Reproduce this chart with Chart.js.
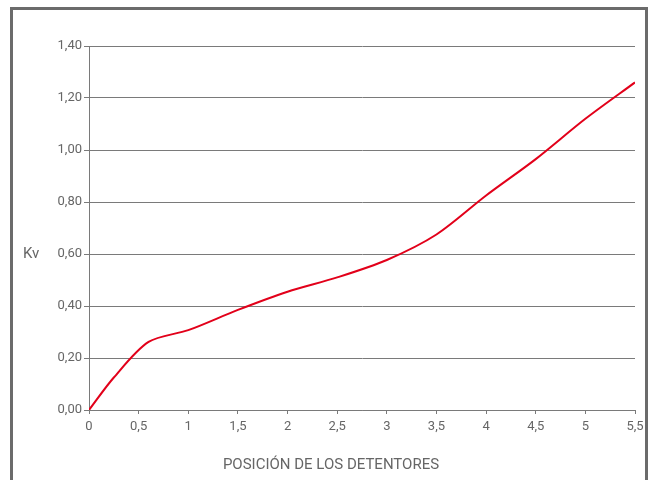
<!DOCTYPE html>
<html>
<head>
<meta charset="utf-8">
<script src="https://cdn.jsdelivr.net/npm/chart.js@4/dist/chart.umd.min.js"></script>
<style>
html,body{margin:0;padding:0;background:#fff;}
#wrap{width:651px;height:480px;position:relative;}
</style>
</head>
<body>
<div id="wrap"><canvas id="c" width="651" height="480"></canvas></div>
<script>
// Data
const positions = [0, 0.25, 0.6, 1, 1.5, 2, 2.5, 3, 3.5, 4, 4.5, 5, 5.5];
const kvValues  = [0, 0.125, 0.262, 0.307, 0.385, 0.455, 0.51, 0.577, 0.675, 0.825, 0.965, 1.12, 1.26];
const xTitle = 'POSICIÓN DE LOS DETENTORES';
const yTitle = 'Kv';

const FONT = "'Liberation Sans Narrow', 'Roboto', 'Liberation Sans', sans-serif";
const TEXT = '#666666';
const GRID = '#7a7a7a';

const points = positions.map((x, i) => ({x: x, y: kvValues[i]}));

const frame = {
  id: 'frame',
  beforeDraw(chart) {
    const ctx = chart.ctx;
    ctx.save();
    ctx.fillStyle = '#ffffff';
    ctx.fillRect(0, 0, chart.width, chart.height);
    ctx.strokeStyle = '#6b6b6b';
    ctx.lineWidth = 3;
    ctx.strokeRect(11.5, 8.5, 635, 500);
    ctx.restore();
  },
  afterDraw(chart) {
    const ctx = chart.ctx;
    ctx.save();
    ctx.fillStyle = TEXT;
    ctx.font = "15px " + FONT;
    ctx.textBaseline = 'middle';
    ctx.textAlign = 'left';
    ctx.fillText(yTitle, 23, chart.scales.y.getPixelForValue(0.6));
    ctx.textAlign = 'center';
    ctx.fillText(xTitle, 331, 465);
    ctx.restore();
  }
};

new Chart(document.getElementById('c'), {
  type: 'line',
  data: {
    datasets: [{
      data: points,
      borderColor: '#e2001a',
      borderWidth: 2,
      pointRadius: 0,
      fill: false,
      tension: 0.3
    }]
  },
  options: {
    responsive: false,
    animation: false,
    devicePixelRatio: 1,
    layout: {padding: {left: 14, right: 16, top: 46, bottom: 0}},
    plugins: {legend: {display: false}, tooltip: {enabled: false}},
    scales: {
      x: {
        type: 'linear',
        min: 0, max: 5.5,
        afterFit(s) { s.height = 70; },
        ticks: {
          stepSize: 0.5,
          color: TEXT,
          font: {family: FONT, size: 13},
          padding: 5,
          maxRotation: 0,
          callback: v => String(v).replace('.', ',')
        },
        grid: {drawOnChartArea: false, drawTicks: true, tickLength: 4, color: GRID},
        border: {color: GRID, width: 1}
      },
      y: {
        min: 0, max: 1.4,
        afterFit(s) { s.width = 75; },
        ticks: {
          stepSize: 0.2,
          color: TEXT,
          font: {family: FONT, size: 13},
          padding: 2,
          callback: v => v.toFixed(2).replace('.', ',')
        },
        grid: {color: GRID, lineWidth: 1, tickLength: 5},
        border: {color: GRID, width: 1}
      }
    }
  },
  plugins: [frame]
});
</script>
</body>
</html>
